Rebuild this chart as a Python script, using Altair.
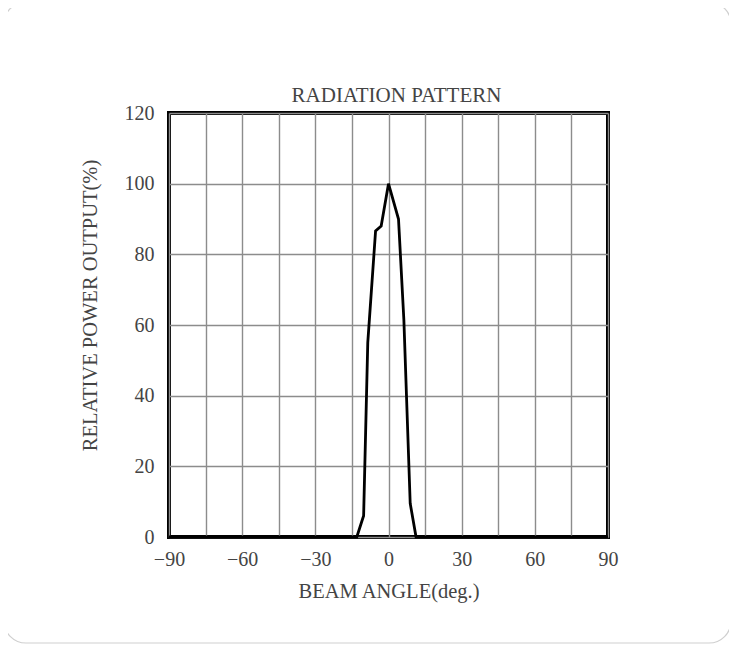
import altair as alt
import pandas as pd

angles = [-90, -13, -10.2, -8.5, -5.3, -3, 0, 4.1, 6.3, 8.9, 11.3, 90]
power = [0, 0, 6, 55, 86.6, 88, 100, 90, 61.5, 9.5, 0, 0]

df = pd.DataFrame({"angle": angles, "power": power})

W, H = 439, 424
PL, PT = 161, 105

font = "Liberation Serif"
txt = "#444444"

line = alt.Chart(df).mark_line(color="black", strokeWidth=2.8).encode(
    x=alt.X("angle:Q", scale=alt.Scale(domain=[-90, 90], nice=False),
            axis=alt.Axis(values=list(range(-90, 91, 15)), labelExpr="datum.value % 30 == 0 ? datum.label : ''",
                          title="BEAM ANGLE(deg.)", grid=True, ticks=False, domain=False,
                          labelFlush=False, labelOverlap=False,
                          labelPadding=12, titleY=54, titleBaseline="middle")),
    y=alt.Y("power:Q", scale=alt.Scale(domain=[0, 120], nice=False),
            axis=alt.Axis(values=list(range(0, 121, 20)), title="RELATIVE POWER OUTPUT(%)",
                          grid=True, ticks=False, domain=False, labelPadding=15,
                          labelFlush=False, labelOverlap=False,
                          titleX=-79, titleY=192, titleBaseline="middle")),
)

border = alt.Chart(pd.DataFrame({"a": [0]})).mark_rect(
    fill="transparent", stroke="#cfcfcf", strokeWidth=1.2, cornerRadius=22
).encode(
    x=alt.value(4 - 8 - PL), x2=alt.value(731 - 8 - PL),
    y=alt.value(1 - 8 - PT + 1), y2=alt.value(643 - 8 - PT),
)

chart = alt.layer(border, line).properties(
    width=W, height=H,
    title=alt.TitleParams("RADIATION PATTERN", fontSize=21, font=font, color=txt,
                          fontWeight="normal", offset=6, dx=8, dy=111),
    autosize=alt.AutoSizeParams(type="none"),
    padding={"left": PL, "top": PT, "right": 721 - PL - W, "bottom": 636 - PT - H},
).configure_view(
    stroke="black", strokeWidth=4
).configure_axis(
    gridColor="#8c8c8c", gridWidth=1.4, gridOpacity=1,
    labelFont=font, labelFontSize=20, labelColor=txt,
    titleFont=font, titleFontSize=20.5, titleColor=txt, titleFontWeight="normal",
)

chart.save("out.html", embed_options={"renderer": "svg", "actions": False})
